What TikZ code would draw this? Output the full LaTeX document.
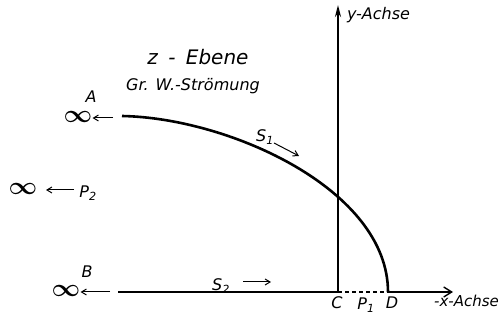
\documentclass[tikz,border=0pt]{standalone}
\usepackage{fontspec}
\setmainfont{DejaVu Sans}
\usetikzlibrary{arrows.meta}
\begin{document}
\begin{tikzpicture}[x=1pt,y=-1pt,
  lbl/.style={font=\itshape\fontsize{16}{16}\selectfont, inner sep=0pt},
  inf/.style={font=\boldmath\fontsize{26}{26}\selectfont, inner sep=0pt, text height=6pt, text depth=0pt},
  small/.style={line width=1pt, -{Straight Barb[length=5pt,width=6pt]}},
  thickc/.style={line width=2.6pt},
  axis/.style={line width=2pt}]
\useasboundingbox (0,0) rectangle (499,320);
% title
\node[font=\itshape\fontsize{20}{20}\selectfont, inner sep=0pt] (title) at (198,57) {z\hspace{0.2em} - \hspace{0.2em}Ebene};
\node[lbl] (sub) at (193,86) {Gr. W.-Strömung};
% axes
\coordinate (C) at (338,292);
\coordinate (ytop) at (338,5);
\coordinate (D) at (388,292);
\coordinate (xend) at (453,292);
\coordinate (Bl) at (118,292);
\coordinate (Al) at (122,116);
\draw[axis, -{Stealth[length=12pt,width=6pt]}] (C) -- (ytop);
\draw[axis] (Bl) -- (C);
\draw[line width=1.6pt, dash pattern=on 4pt off 3pt] (C) -- (D);
\draw[line width=1.4pt, -{Straight Barb[length=8pt,width=10pt]}] (D) -- (xend);
% curve
\draw[thickc] (Al) .. controls (230,118) and (388,190) .. (D);
% labels axes
\node[lbl, anchor=west] (ylab) at (347,15) {y-Achse};
\node[lbl, anchor=west, font=\itshape\fontsize{15}{15}\selectfont] (xlab) at (434,301) {-x-Achse};
\node[lbl] (Clab) at (337,303) {C};
\node[lbl] (P1lab) at (366,305) {P\textsubscript{1}};
\node[lbl] (Dlab) at (392,303) {D};
% A
\node[inf, font=\boldmath\fontsize{23}{23}\selectfont] (Ainf) at (78,120) {$\infty$};
\node[lbl] (Alab) at (91,97) {A};
\coordinate (Aarr) at (113,118);
\draw[small] (Aarr) -- (Ainf.east |- Aarr);
% P2
\node[inf, font=\boldmath\fontsize{31}{31}\selectfont] (Pinf) at (23,192) {$\infty$};
\node[lbl] (P2lab) at (88,193) {P\textsubscript{2}};
\coordinate (P2s) at (74,190);
\coordinate (P2e) at (46,190);
\draw[small] (P2s) -- (P2e);
% B
\node[inf, font=\boldmath\fontsize{28}{28}\selectfont] (Binf) at (66,294) {$\infty$};
\node[lbl] (Blab) at (87,272) {B};
\coordinate (Barr) at (110,292);
\draw[small] (Barr) -- (Binf.east |- Barr);
% S1, S2
\node[lbl] (S1) at (265,137) {S\textsubscript{1}};
\coordinate (S1a) at (274,143);
\coordinate (S1b) at (299,156);
\draw[small] (S1a) -- (S1b);
\node[lbl] (S2) at (221,286) {S\textsubscript{2}};
\coordinate (S2a) at (243,282);
\coordinate (S2b) at (271,282);
\draw[small] (S2a) -- (S2b);
\end{tikzpicture}
\end{document}
